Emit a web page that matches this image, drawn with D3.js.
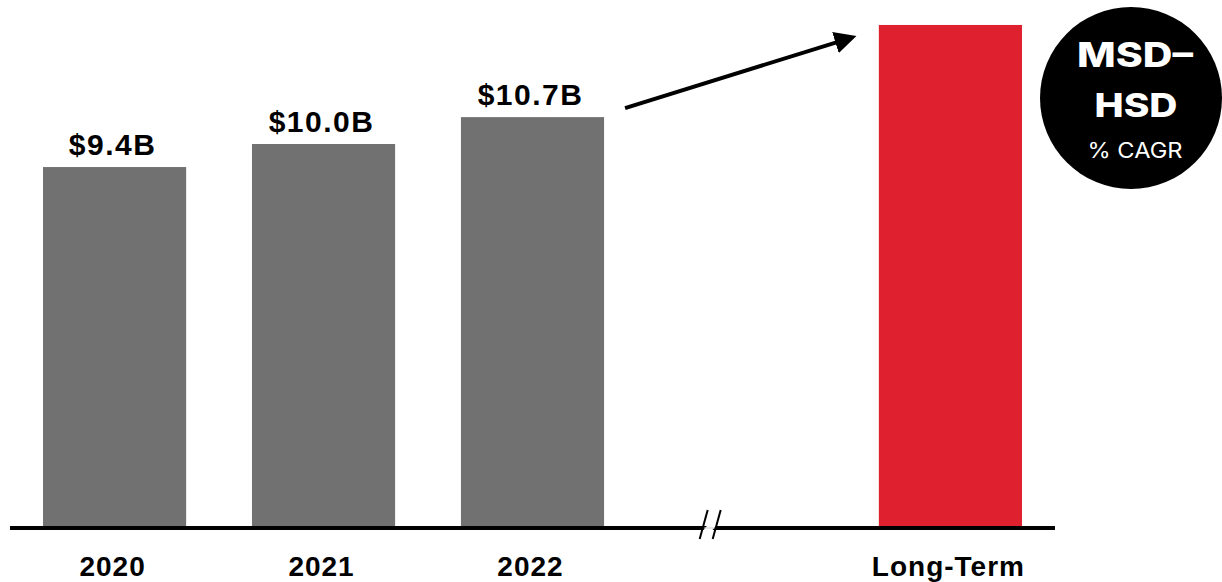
<!DOCTYPE html>
<html><head><meta charset="utf-8">
<script src="https://cdn.jsdelivr.net/npm/d3@7"></script>
<style>body{margin:0;background:#fff}svg{display:block}</style>
</head><body>
<script>
const categories = ["2020", "2021", "2022", "", "Long-Term"];
const values = [9.4, 10.0, 10.7, null, 13.1];
const valueLabels = ["$9.4B", "$10.0B", "$10.7B", "", ""];
const badgeLines = ["MSD–", "HSD", "% CAGR"];

const W = 1222, H = 582;
const svg = d3.select("body").append("svg").attr("width", W).attr("height", H);

const x = d3.scaleBand().domain(categories).range([10, 1055]).paddingInner(0.315).paddingOuter(0.158);
const y = d3.scaleLinear().domain([0, 13.75]).range([528, 0]);

const data = categories.map((c, i) => ({c, v: values[i], l: valueLabels[i], i}));
const bars = data.filter(d => d.v != null);

svg.selectAll("rect.bar").data(bars).join("rect")
  .attr("x", d => x(d.c)).attr("width", x.bandwidth())
  .attr("y", d => y(d.v)).attr("height", d => y(0) - y(d.v))
  .attr("fill", d => d.c === "Long-Term" ? "#DF202F" : "#717171");

svg.selectAll("text.val").data(bars.filter(d => d.l)).join("text")
  .attr("x", d => x(d.c) + x.bandwidth()/2 - 2).attr("y", d => y(d.v) - 12)
  .attr("text-anchor", "middle")
  .attr("font-family", "Liberation Sans, Arial, sans-serif").attr("font-weight", "bold")
  .attr("font-size", 30).attr("letter-spacing", 1.5).attr("fill", "#000").text(d => d.l);

// baseline axis
const axis = d3.axisBottom(x).tickSize(0);
const gA = svg.append("g").attr("transform", `translate(0,${y(0)})`).call(axis);
gA.select(".domain").attr("stroke", "#000").attr("stroke-width", 4).attr("d", `M${x.range()[0]},0H${x.range()[1]}`);
gA.selectAll(".tick text").attr("font-family", "Liberation Sans, Arial, sans-serif")
  .attr("font-weight", "bold").attr("font-size", 28).attr("letter-spacing", 1)
  .attr("fill", "#000").attr("y", 48).attr("dy", 0).attr("dx", -2);

// axis break
const bx = x("2022") + x.step() * 1.2;
const by = y(0);
svg.append("polygon").attr("points", `${bx-9},${by+3} ${bx-4},${by-3} ${bx+5},${by-3} ${bx+0},${by+3}`).attr("fill", "#fff");
svg.append("line").attr("x1", bx - 8).attr("y1", by).attr("x2", bx + 4).attr("y2", by).attr("stroke", "#ccc").attr("stroke-width", 1);
[-4, 9].forEach(o => {
  svg.append("line").attr("x1", bx + o - 8).attr("y1", by + 11).attr("x2", bx + o).attr("y2", by - 18)
    .attr("stroke", "#000").attr("stroke-width", 2);
});

// arrow
svg.append("defs").append("marker").attr("id", "ah").attr("viewBox", "0 0 10 10")
  .attr("refX", 2).attr("refY", 5).attr("markerWidth", 5.5).attr("markerHeight", 5.5)
  .attr("orient", "auto").attr("markerUnits", "strokeWidth")
  .append("path").attr("d", "M0,0L10,5L0,10Z").attr("fill", "#000");
const ax1 = x("2022") + x.bandwidth() + 21, ay1 = y(10.7) - 9;
const ax2 = x("Long-Term") - 22, ay2 = y(13.1) + 11;
const ang = Math.atan2(ay2 - ay1, ax2 - ax1);
svg.append("line").attr("x1", ax1).attr("y1", ay1)
  .attr("x2", ax2 - Math.cos(ang) * 18).attr("y2", ay2 - Math.sin(ang) * 18)
  .attr("stroke", "#000").attr("stroke-width", 4).attr("marker-end", "url(#ah)");

// badge
const cx = 1131, cy = 98;
svg.append("circle").attr("cx", cx).attr("cy", cy).attr("r", 91).attr("fill", "#000");
const bt = svg.append("g").attr("font-family", "Inter, sans-serif").attr("fill", "#fff").attr("text-anchor", "middle");
bt.append("text").attr("x", cx + 4).attr("y", 67).attr("font-size", 34).attr("font-weight", 800)
  .attr("textLength", 116).attr("lengthAdjust", "spacingAndGlyphs").text(badgeLines[0]);
bt.append("text").attr("x", cx + 5).attr("y", 117).attr("font-size", 33).attr("font-weight", 800)
  .attr("textLength", 83).attr("lengthAdjust", "spacingAndGlyphs").text(badgeLines[1]);
bt.append("text").attr("x", cx + 4).attr("y", 158).attr("font-size", 21).attr("font-weight", 400)
  .attr("textLength", 95).attr("lengthAdjust", "spacingAndGlyphs").text(badgeLines[2]);
</script>
</body></html>
